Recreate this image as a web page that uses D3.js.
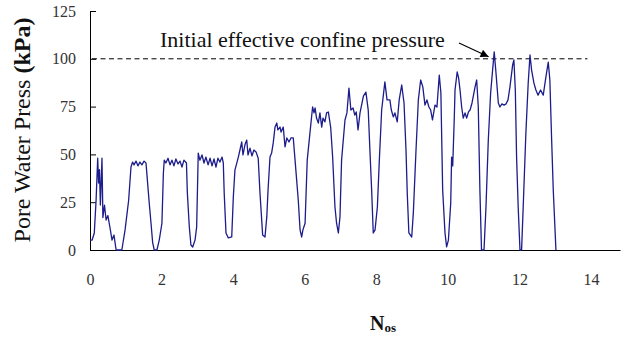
<!DOCTYPE html>
<html>
<head>
<meta charset="utf-8">
<script src="https://cdn.jsdelivr.net/npm/d3@7"></script>
<style>
  body { margin: 0; background: #fff; }
  text { font-family: "Liberation Serif", "Times New Roman", serif; }
</style>
</head>
<body>
<svg id="chart" width="624" height="337"></svg>
<script>
// cycles (N_os) and pore water pressure (kPa)
const nos = [0, 0.06, 0.12, 0.17, 0.215, 0.24, 0.265, 0.29, 0.335, 0.36, 0.405, 0.45, 0.5, 0.56, 0.615, 0.67, 0.73, 0.89,
    0.98, 1.08, 1.145, 1.19, 1.23, 1.285, 1.34, 1.395, 1.45, 1.51, 1.565, 1.61, 1.66, 1.705, 1.75, 1.795, 1.87,
    1.935, 2.01, 2.05, 2.075, 2.12, 2.18, 2.235, 2.29, 2.345, 2.4, 2.46, 2.515, 2.57, 2.625, 2.695, 2.72, 2.775, 2.82, 2.87,
    2.935, 2.98, 3.025, 3.07, 3.13, 3.185, 3.24, 3.3, 3.355, 3.41, 3.465, 3.52, 3.575, 3.63, 3.69, 3.725, 3.75, 3.8, 3.865,
    3.96, 4.005, 4.05, 4.145, 4.19, 4.24, 4.275, 4.33, 4.38, 4.415, 4.47, 4.525, 4.58, 4.64, 4.7, 4.75, 4.825, 4.89,
    4.94, 4.975, 5.03, 5.075, 5.12, 5.17, 5.22, 5.25, 5.31, 5.34, 5.4, 5.45, 5.5, 5.56, 5.615, 5.68, 5.73, 5.82, 5.87, 5.915,
    5.95, 6.01, 6.07, 6.145, 6.22, 6.26, 6.29, 6.33, 6.38, 6.425, 6.475, 6.51, 6.565, 6.61, 6.66, 6.725, 6.78, 6.845, 6.89, 6.94,
    6.985, 7.03, 7.125, 7.18, 7.236, 7.29, 7.35, 7.4, 7.44, 7.49, 7.545, 7.64, 7.71, 7.775, 7.825, 7.87, 7.915,
    7.965, 8.03, 8.085, 8.15, 8.24, 8.3, 8.38, 8.42, 8.475, 8.52, 8.585, 8.64, 8.71, 8.775, 8.83, 8.865, 8.91, 8.99,
    9.035, 9.11, 9.175, 9.24, 9.3, 9.36, 9.415, 9.47, 9.52, 9.57, 9.64, 9.695, 9.76, 9.805, 9.855, 9.92, 9.965,
    10.015, 10.08, 10.105, 10.135, 10.15, 10.18, 10.2, 10.26, 10.3, 10.34, 10.385, 10.43, 10.48, 10.525, 10.575, 10.62,
    10.675, 10.76, 10.805, 10.85, 10.895, 10.94, 11.01, 11.065, 11.13, 11.195, 11.25, 11.295, 11.345, 11.41, 11.455,
    11.51, 11.57, 11.625, 11.68, 11.735, 11.81, 11.845, 11.885, 11.92, 11.965, 12.015, 12.06, 12.105, 12.18, 12.245,
    12.295, 12.34, 12.405, 12.46, 12.52, 12.59, 12.665, 12.74, 12.805, 12.85, 12.9, 12.945, 13.02];
const pwp = [5.2, 5.2, 8.9, 26, 48, 35, 42, 23.5, 48, 17, 23.5, 15.7, 18, 11.5, 5.2, 7.8, 0, 0,
    10.5, 26, 43.4, 46, 44.5, 46.5, 44, 46, 44.5, 46.5, 45.5, 35, 23.5, 14, 4, 0, 0,
    5.2, 14, 40, 47, 45.5, 48, 44.5, 47, 44, 47.6, 45, 46.5, 43.4, 47, 45.5, 30, 12, 2.6, 1.6,
    5.2, 12, 50.7, 47, 49.7, 45.5, 48.6, 44.5, 48, 44, 47.6, 43.4, 48, 46, 48.6, 45.5, 29.8, 8.9, 6.3,
    6.8, 27.7, 41.8, 48.6, 52.3, 56.5, 49.7, 55, 57.5, 49.7, 53.3, 49.2, 52.3, 51.3, 48, 29.8, 7.8, 6.8,
    17.3, 31.4, 48.6, 50.7, 56, 64.3, 66.4, 62.8, 64.3, 61.7, 64.3, 53.9, 58.6, 56.5, 58.6, 58.6, 47, 26, 10.5, 6.8,
    10.5, 14, 47, 61, 74.8, 71.7, 74.3, 69, 66.4, 71.7, 64.3, 69, 67, 71.7, 72.2, 64.3, 48.6, 22.5, 14, 8.9,
    17.3, 47, 68, 71.7, 84.7, 73.2, 74.3, 70.6, 72.2, 62.8, 71.7, 80.5, 82.6, 73.2, 50.7, 31.4, 8.9,
    10.5, 22.5, 47, 73.2, 87.9, 78.5, 78.5, 73.2, 69.6, 71.7, 67, 78.5, 86.3, 76.9, 52.3, 29.8, 8.9, 6.8,
    19.4, 52.3, 78.5, 88.9, 85.3, 75.8, 78.5, 74.8, 73.2, 68, 75.8, 74.8, 91.5, 82.1, 31.4, 8.9, 1.6,
    5.2, 24.6, 48.6, 44, 52.3, 69.6, 83.7, 93.1, 90, 83.7, 74.8, 69, 71.7, 69, 72.2, 73.2,
    76.9, 85.3, 88.9, 74.8, 31.4, 0, 0, 22.5, 57.5, 82.1, 94.1, 103.6, 92.6, 76.9, 74.8,
    76.4, 75.8, 76.4, 78.5, 85.3, 96.8, 99.4, 83.7, 48.6, 22.5, 0, 0, 22.5, 61.2, 87.3,
    102, 94.1, 87.3, 83.7, 81, 83.7, 81, 90.5, 98.3, 88.9, 57.5, 31.4, 0];

const xTicks = [0, 2, 4, 6, 8, 10, 12, 14];
const yTicks = [0, 25, 50, 75, 100, 125];
const confinePressure = 100;
const dashEnd = 13.9;
const annotation = "Initial effective confine pressure";
const arrowTarget = { n: 11.25, u: 100 };

const svg = d3.select("#chart");

const x = d3.scaleLinear().domain([0, 14.81]).range([90, 620]);
const y = d3.scaleLinear().domain([0, 125]).range([250, 11]);

// axes
svg.append("g")
    .attr("transform", "translate(0,250)")
    .call(d3.axisBottom(x).tickValues(xTicks).tickSize(0).tickPadding(24))
    .call(g => g.select(".domain").attr("stroke", "#000"))
    .call(g => g.selectAll("text").style("font-size", "16px").attr("fill", "#333"));

svg.append("g")
    .attr("transform", "translate(90,0)")
    .call(d3.axisLeft(y).tickValues(yTicks).tickSizeInner(-6).tickSizeOuter(0).tickPadding(14))
    .call(g => g.select(".domain").attr("stroke", "#000"))
    .call(g => g.selectAll("line").attr("stroke", "#000"))
    .call(g => g.selectAll("text").style("font-size", "16px").attr("fill", "#333"));

// dashed reference line
svg.append("line")
    .attr("x1", x(0) + 2).attr("x2", x(dashEnd))
    .attr("y1", y(confinePressure)).attr("y2", y(confinePressure))
    .attr("stroke", "#000")
    .attr("stroke-dasharray", "5,3.5");

// pore pressure trace
const line = d3.line()
    .x((d, i) => x(nos[i]))
    .y(d => y(d));

svg.append("path")
    .datum(pwp)
    .attr("d", line)
    .attr("fill", "none")
    .attr("stroke", "#1c1c8c")
    .attr("stroke-width", 1.3)
    .attr("stroke-linejoin", "round");

// annotation
svg.append("text")
    .attr("x", 160).attr("y", 47)
    .style("font-size", "22px")
    .attr("fill", "#111")
    .text(annotation);

svg.append("defs").append("marker")
    .attr("id", "arrow")
    .attr("viewBox", "0 0 10 10")
    .attr("refX", 10).attr("refY", 5)
    .attr("markerWidth", 10).attr("markerHeight", 8)
    .attr("markerUnits", "userSpaceOnUse")
    .attr("orient", "auto")
    .append("path")
    .attr("d", "M0,0L10,5L0,10Z")
    .attr("fill", "#000");

svg.append("line")
    .attr("x1", 459).attr("y1", 43)
    .attr("x2", x(arrowTarget.n) - 4).attr("y2", y(arrowTarget.u) - 2)
    .attr("stroke", "#000")
    .attr("stroke-width", 1.2)
    .attr("marker-end", "url(#arrow)");

// axis titles
const yTitle = svg.append("text")
    .attr("transform", "translate(30,130) rotate(-90)")
    .attr("text-anchor", "middle")
    .style("font-size", "24px")
    .attr("fill", "#111");
yTitle.append("tspan").text("Pore Water Press ");
yTitle.append("tspan").style("font-weight", "bold").text("(kPa)");

const xTitle = svg.append("text")
    .attr("x", 383).attr("y", 330)
    .attr("text-anchor", "middle")
    .style("font-weight", "bold")
    .attr("fill", "#111");
xTitle.append("tspan").style("font-size", "20px").text("N");
xTitle.append("tspan").style("font-size", "13px").attr("dy", 2).text("os");
</script>
</body>
</html>
